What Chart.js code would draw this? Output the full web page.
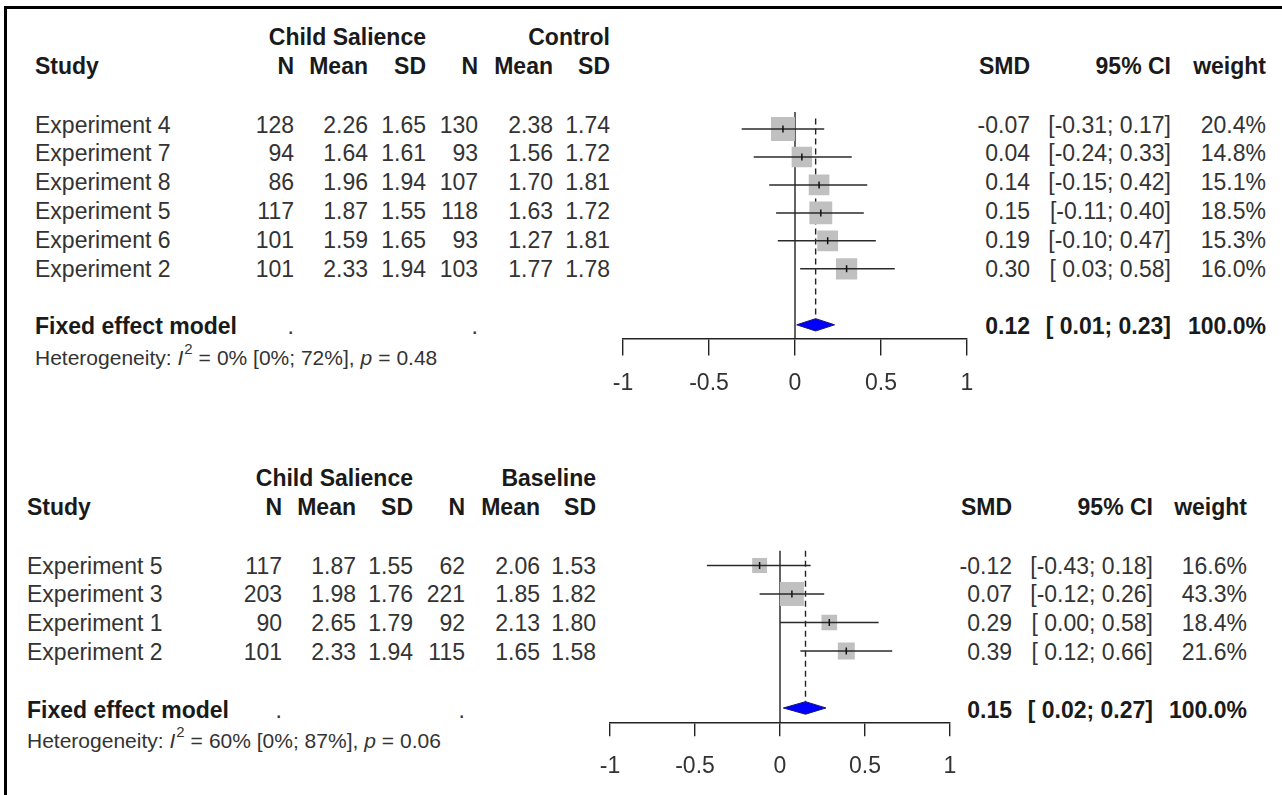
<!DOCTYPE html>
<html>
<head>
<meta charset="utf-8">
<script src="https://cdn.jsdelivr.net/npm/chart.js@4.4.0/dist/chart.umd.min.js"></script>
<style>
html, body { margin: 0; padding: 0; background: #fff; }
#page { position: relative; width: 1282px; height: 795px; overflow: hidden;
        font-family: "Liberation Sans", Arial, sans-serif; }
.frame { position: absolute; left: 4px; top: 6px; width: 1300px; height: 820px;
         border-top: 3px solid #000; border-left: 3px solid #000; }
.t { position: absolute; white-space: pre; font-size: 23px; line-height: 23px; height: 23px;
     color: #333; transform: translateY(-50%); }
.t.b { font-weight: bold; color: #1a1a1a; }
.t.s { font-size: 21px; line-height: 21px; height: 21px; }
.t sup { font-size: 15px; line-height: 0; vertical-align: 11px; margin-left: 1px; }
.t .eq { margin: 0 6px; }
.plot { position: absolute; }
</style>
</head>
<body>
<div id="page"><div class="frame"></div></div>
<script>
// ===== DATA: Child Salience vs Control =====
const studiesA = ["Experiment 4", "Experiment 7", "Experiment 8", "Experiment 5", "Experiment 6", "Experiment 2"];
const nExpA    = [128, 94, 86, 117, 101, 101];
const meanExpA = [2.26, 1.64, 1.96, 1.87, 1.59, 2.33];
const sdExpA   = [1.65, 1.61, 1.94, 1.55, 1.65, 1.94];
const nCtlA    = [130, 93, 107, 118, 93, 103];
const meanCtlA = [2.38, 1.56, 1.70, 1.63, 1.27, 1.77];
const sdCtlA   = [1.74, 1.72, 1.81, 1.72, 1.81, 1.78];
const smdA     = [-0.07, 0.04, 0.14, 0.15, 0.19, 0.30];
const loA      = [-0.31, -0.24, -0.15, -0.11, -0.10, 0.03];
const hiA      = [0.17, 0.33, 0.42, 0.40, 0.47, 0.58];
const weightA  = [20.4, 14.8, 15.1, 18.5, 15.3, 16.0];
const pooledA  = [0.12, 0.01, 0.23];          // SMD, lower, upper
const hetA     = ["0%", "[0%; 72%]", "0.48"];  // I2, CI, p

// ===== DATA: Child Salience vs Baseline =====
const studiesB = ["Experiment 5", "Experiment 3", "Experiment 1", "Experiment 2"];
const nExpB    = [117, 203, 90, 101];
const meanExpB = [1.87, 1.98, 2.65, 2.33];
const sdExpB   = [1.55, 1.76, 1.79, 1.94];
const nBasB    = [62, 221, 92, 115];
const meanBasB = [2.06, 1.85, 2.13, 1.65];
const sdBasB   = [1.53, 1.82, 1.80, 1.58];
const smdB     = [-0.12, 0.07, 0.29, 0.39];
const loB      = [-0.43, -0.12, 0.00, 0.12];
const hiB      = [0.18, 0.26, 0.58, 0.66];
const weightB  = [16.6, 43.3, 18.4, 21.6];
const pooledB  = [0.15, 0.02, 0.27];
const hetB     = ["60%", "[0%; 87%]", "0.06"];

// ===== AXIS & HEADERS =====
const tickValues = [-1, -0.5, 0, 0.5, 1];
const tickLabels = ["-1", "-0.5", "0", "0.5", "1"];
const colHeads   = ["N", "Mean", "SD", "N", "Mean", "SD"];
const sideHeads  = ["SMD", "95% CI", "weight"];

// ===== LAYOUT (pixels) =====
const layoutA = {
    left: 35, cols: [294, 368, 426, 478, 553, 610], smd: 1030, ci: 1171, wt: 1266,
    head1: 37, head2: 66, row0: 124.5, unit: 28.8, het: 357,
    plot: { left: 623, right: 967, row0: 122.3, axisY: 338, zeroTop: -0.61, dashTop: -0.37, tickLen: 17, tickPad: 14 }
};
const layoutB = {
    left: 27, cols: [282, 356, 413, 465, 540, 596], smd: 1012, ci: 1153, wt: 1247,
    head1: 478, head2: 507, row0: 565.5, unit: 28.8, het: 740,
    plot: { left: 610, right: 950, row0: 563.5, axisY: 722, zeroTop: -0.52, dashTop: -0.52, tickLen: 14, tickPad: 17 }
};

Chart.defaults.font.family = '"Liberation Sans", Arial, sans-serif';
const page = document.getElementById("page");

function txt(x, y, html, cls, align) {
    const d = document.createElement("div");
    d.className = "t " + (cls || "");
    d.innerHTML = html;
    d.style.top = y + "px";
    if (align === "left") d.style.left = x + "px";
    else d.style.right = (1282 - x) + "px";
    page.appendChild(d);
}

function fmtCI(lo, hi) {
    return "[" + (lo < 0 ? "" : " ") + lo.toFixed(2) + "; " + hi.toFixed(2) + "]";
}

// ===== TABLE TEXT =====
function drawTable(L, groups, studies, cols, smd, lo, hi, w, pooled, het) {
    txt(L.cols[2], L.head1, groups[0], "b");
    txt(L.cols[5], L.head1, groups[1], "b");
    txt(L.left, L.head2, "Study", "b", "left");
    colHeads.forEach((h, j) => txt(L.cols[j], L.head2, h, "b"));
    txt(L.smd, L.head2, sideHeads[0], "b");
    txt(L.ci, L.head2, sideHeads[1], "b");
    txt(L.wt, L.head2, sideHeads[2], "b");

    studies.forEach((s, i) => {
        const y = L.row0 + L.unit * i;
        txt(L.left, y, s, "", "left");
        cols.forEach((c, j) => {
            const v = c[i];
            txt(L.cols[j], y, (j === 0 || j === 3) ? String(v) : v.toFixed(2));
        });
        txt(L.smd, y, smd[i].toFixed(2));
        txt(L.ci, y, fmtCI(lo[i], hi[i]));
        txt(L.wt, y, w[i].toFixed(1) + "%");
    });

    const yf = L.row0 + L.unit * (studies.length + 1);
    txt(L.left, yf, "Fixed effect model", "b", "left");
    txt(L.cols[0], yf, ".");
    txt(L.cols[3], yf, ".");
    txt(L.smd, yf, pooled[0].toFixed(2), "b");
    txt(L.ci, yf, fmtCI(pooled[1], pooled[2]), "b");
    txt(L.wt, yf, "100.0%", "b");

    txt(L.left, L.het, "Heterogeneity: <i>I</i><sup>2</sup><span class=\"eq\">=</span>" + het[0] + " " + het[1] +
        ", <i>p</i><span class=\"eq\">=</span>" + het[2], "s", "left");
}

// ===== FOREST PLOT =====
function drawForest(L, smd, lo, hi, w, pooled) {
    const P = L.plot;
    const unit = L.unit;
    const n = smd.length;
    const fixedRow = n + 1;
    const padX = 40, padTop = 10, axisH = 66;
    const chartTop = P.row0 - unit;
    const canvasTop = chartTop - padTop;
    const yMin = (chartTop - P.row0) / unit;
    const yMax = yMin + (P.axisY - chartTop) / unit;

    const box = document.createElement("div");
    box.className = "plot";
    box.style.left = (P.left - padX) + "px";
    box.style.top = canvasTop + "px";
    box.style.width = (P.right - P.left + 2 * padX) + "px";
    box.style.height = (P.axisY - canvasTop + axisH) + "px";
    const cv = document.createElement("canvas");
    box.appendChild(cv);
    page.appendChild(box);

    const maxW = Math.max(...w);
    const pts = smd.map((v, i) => ({ x: v, y: i }));
    const hh = 0.22;
    const base = { type: "line", pointRadius: 0, borderWidth: 1.4, borderColor: "#222", fill: false };

    const datasets = [
        Object.assign({}, base, { data: [{ x: 0, y: P.zeroTop }, { x: 0, y: yMax }], order: 6 }),
        Object.assign({}, base, { data: [{ x: pooled[0], y: P.dashTop }, { x: pooled[0], y: fixedRow - hh }],
            borderDash: [6, 4], order: 5 }),
        { type: "line", data: pts, showLine: false, pointStyle: "rect",
          pointRadius: w.map(v => 24 * Math.sqrt(v / maxW) / Math.SQRT2),
          pointBackgroundColor: "#c0c0c0", pointBorderWidth: 0, order: 4 }
    ];
    lo.forEach((l, i) => {
        datasets.push(Object.assign({}, base, { data: [{ x: l, y: i }, { x: hi[i], y: i }],
            borderWidth: 1.5, borderColor: "#2a2a2a", order: 3 }));
    });
    datasets.push({ type: "line", data: pts, showLine: false, pointStyle: "line", pointRotation: 90,
        pointRadius: 3.5, pointBorderColor: "#111", pointBorderWidth: 1.5, order: 2 });
    datasets.push({ type: "line", order: 1, pointRadius: 0, borderColor: "#14147a", borderWidth: 1,
        backgroundColor: "#0000ff", fill: "shape",
        data: [{ x: pooled[1], y: fixedRow }, { x: pooled[0], y: fixedRow - hh },
               { x: pooled[2], y: fixedRow }, { x: pooled[0], y: fixedRow + hh },
               { x: pooled[1], y: fixedRow }] });

    new Chart(cv, {
        type: "line",
        data: { datasets: datasets },
        options: {
            responsive: true,
            maintainAspectRatio: false,
            animation: false,
            layout: { padding: { left: padX, right: padX, top: padTop, bottom: 0 } },
            plugins: { legend: { display: false }, tooltip: { enabled: false } },
            scales: {
                x: {
                    type: "linear", min: -1, max: 1,
                    afterBuildTicks: s => { s.ticks = tickValues.map(v => ({ value: v })); },
                    afterFit: s => { s.height = axisH; },
                    ticks: {
                        callback: (v, i) => tickLabels[i],
                        font: { size: 23 }, color: "#333", padding: P.tickPad,
                        maxRotation: 0, autoSkip: false
                    },
                    grid: { display: true, drawOnChartArea: false, drawTicks: true,
                            tickLength: P.tickLen, color: "#222", lineWidth: 1.4 },
                    border: { display: true, color: "#222", width: 1.4 }
                },
                y: { type: "linear", display: false, reverse: true, min: yMin, max: yMax }
            }
        }
    });
}

drawTable(layoutA, ["Child Salience", "Control"], studiesA,
    [nExpA, meanExpA, sdExpA, nCtlA, meanCtlA, sdCtlA], smdA, loA, hiA, weightA, pooledA, hetA);
drawForest(layoutA, smdA, loA, hiA, weightA, pooledA);

drawTable(layoutB, ["Child Salience", "Baseline"], studiesB,
    [nExpB, meanExpB, sdExpB, nBasB, meanBasB, sdBasB], smdB, loB, hiB, weightB, pooledB, hetB);
drawForest(layoutB, smdB, loB, hiB, weightB, pooledB);
</script>
</body>
</html>
